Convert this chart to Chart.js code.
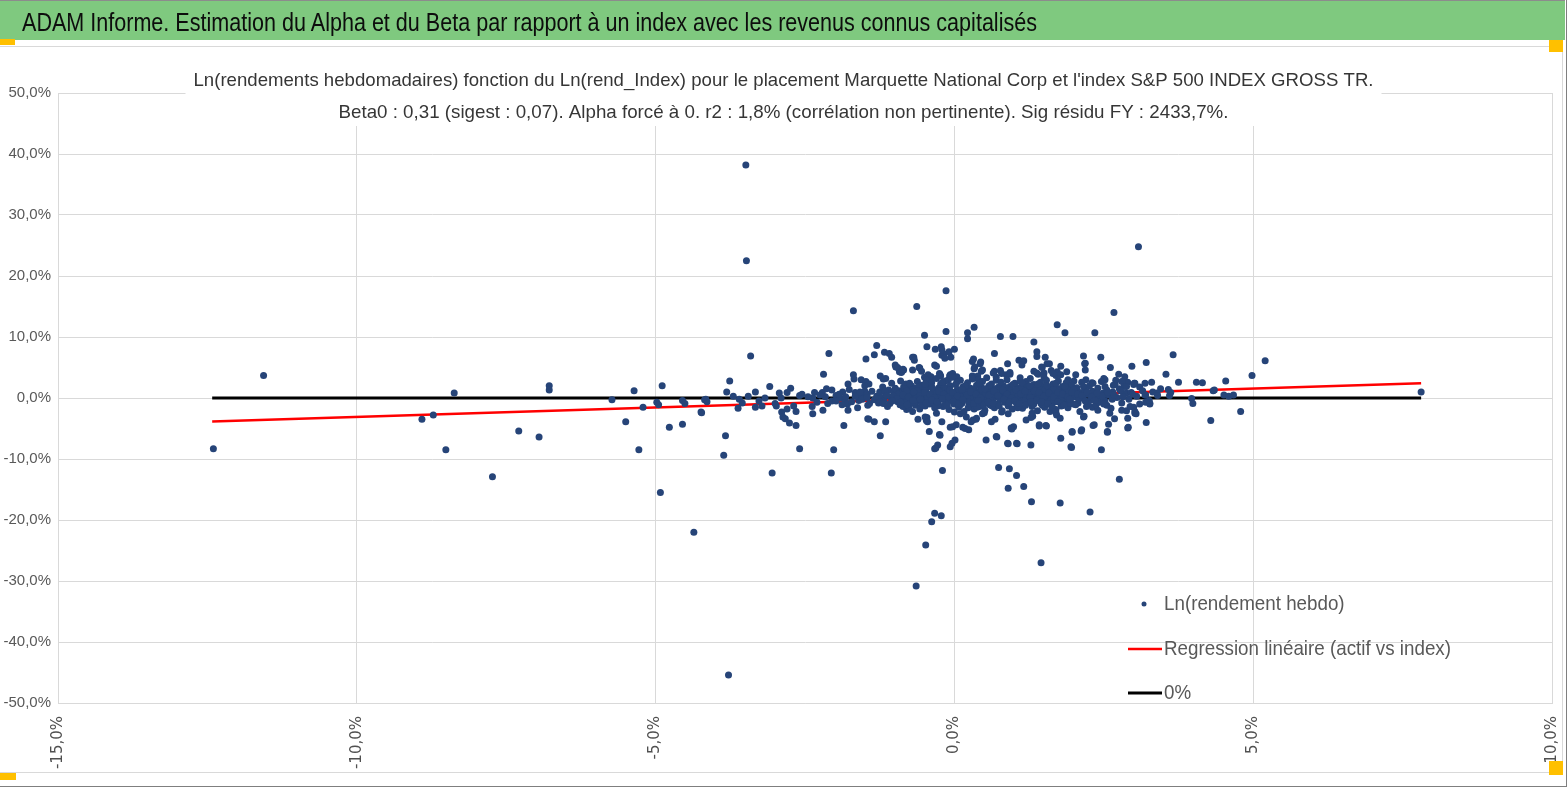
<!DOCTYPE html>
<html lang="fr">
<head>
<meta charset="utf-8">
<title>ADAM Informe</title>
<script src="https://cdn.jsdelivr.net/npm/chart.js@4.4.1/dist/chart.umd.min.js"></script>
<style>
html, body { margin: 0; padding: 0; background: #fff; }
#page { position: relative; width: 1567px; height: 787px; overflow: hidden; }
#bar { position: absolute; left: 0; top: 0; width: 1565px; height: 39px; background: #7fc97f; border-top: 1px solid #8c8c8c; }
#bar span { position: absolute; left: 22px; top: 2px; font: 26px "Liberation Sans Narrow", "Liberation Sans", sans-serif; line-height: 39px; color: #0d0d0d; white-space: nowrap; transform-origin: 0 50%; }
#frame { position: absolute; left: 0; top: 46px; width: 1562px; height: 725px; border: 1px solid #d9d9d9; border-left: none; }
#edge { position: absolute; left: 0; top: 0; width: 1566px; height: 786px; border-right: 1px solid #7f7f7f; border-bottom: 1px solid #7f7f7f; pointer-events: none; }
.h { position: absolute; background: #ffc000; }
canvas { position: absolute; left: 0; top: 0; }
</style>
</head>
<body>
<div id="page">
  <div id="frame"></div>
  <canvas id="c" width="1567" height="787"></canvas>
  <div id="bar"><span id="barTitle">ADAM Informe. Estimation du Alpha et du Beta par rapport à un index avec les revenus connus capitalisés</span></div>
  <div class="h" style="left:0;top:39px;width:15px;height:6px"></div>
  <div class="h" style="left:1549px;top:40px;width:14px;height:12px"></div>
  <div class="h" style="left:1549px;top:761px;width:14px;height:14px"></div>
  <div class="h" style="left:0;top:773px;width:16px;height:7px"></div>
  <div id="edge"></div>
</div>
<script>
// [ln(rend index) %, ln(rend hebdo) %]
const tailPoints = [
  [-12.40,-8.3],[-11.56,3.7],[-8.91,-3.5],[-8.72,-2.8],[-8.37,0.8],[-8.51,-8.5],[-7.73,-12.9],[-7.29,-5.4],
  [-6.95,-6.4],[-6.78,2.0],[-6.78,1.3],[-5.73,-0.3],[-5.50,-3.9],[-5.36,1.2],[-5.28,-8.5],[-5.21,-1.5],
  [-4.98,-0.7],[-4.95,-1.1],[-4.89,2.0],[-4.92,-15.5],[-4.77,-4.8],[-4.55,-0.4],[-4.51,-0.9],[-4.55,-4.3],
  [-4.23,-2.4],[-4.18,-0.3],[-4.14,-0.6],[-4.36,-22.0],[-3.49,38.2],[-3.48,22.5],[-3.78,-45.4],[-3.41,6.9],
  [-3.76,2.8],[-3.81,1.0],[-4.16,-0.2],[-4.24,-2.3],[-3.83,-6.2],[-3.86,-9.4],[-3.62,-1.7],[-3.05,-12.3],
  [-2.06,-12.3],[-2.59,-8.3],[-2.02,-8.5],[-1.69,14.3],[-0.64,-30.8],[-0.14,17.6],[-0.63,15.0],[-0.33,-18.9],
  [-0.22,-19.3],[-0.38,-20.3],[-0.48,-24.1],[1.45,-27.0],[1.29,-17.0],[1.77,-17.2],[2.27,-18.7],[2.76,-13.3],
  [3.08,24.8],[2.67,14.0],[0.90,-14.8],[1.16,-14.5],[1.04,-12.7],[0.74,-11.4],[0.92,-11.6],[-0.20,-11.9],
  [0.33,11.6],[0.22,10.7],[-0.14,10.9],[-0.50,10.3],[1.72,12.0],[1.85,10.7],[2.35,10.7],[0.77,10.1],
  [0.98,10.1],[3.66,7.1],[5.20,6.1],[4.98,3.7],[4.54,2.8],[4.05,2.6],[4.15,2.5],[3.75,2.6],
  [3.54,3.9],[4.51,0.5],[4.59,0.3],[3.97,-0.1],[3.99,-0.9],[4.33,1.2],[4.79,-2.2],[4.29,-3.7],
  [4.67,0.5],[7.81,1.0]
];

const spreadPoints = [
  [0.22,9.7],[1.33,9.2],[-0.46,8.4],[-0.32,8.0],[-0.22,8.4],[-0.21,7.0],[-0.17,7.2],[0.00,8.0],
  [-0.06,6.7],[-0.68,6.7],[0.67,7.3],[1.38,7.6],[1.38,6.8],[1.08,6.2],[1.16,6.1],[0.89,5.6],
  [1.52,6.7],[1.55,5.6],[1.47,5.0],[1.78,5.2],[2.16,6.9],[2.18,5.6],[0.30,6.0],[0.43,5.6],
  [0.33,4.8],[0.45,4.4],[-0.58,4.9],[-0.92,4.3],[-0.98,5.1],[-0.33,5.4],[-0.24,3.8],[-0.08,3.6],
  [0.67,4.4],[0.77,4.5],[0.87,3.8],[0.93,4.2],[1.33,4.4],[1.40,3.9],[1.50,4.1],[1.62,4.5],
  [1.70,3.7],[1.72,4.3],[-2.10,7.3],[-1.30,8.6],[-1.34,7.1],[-1.48,6.4],[-1.17,7.5],[-1.09,7.3],
  [-1.05,6.7],[-0.99,5.4],[-0.95,5.0],[-0.89,4.2],[-0.85,4.6],[-0.70,6.7],[-0.59,5.0],[-0.70,4.6],
  [-2.19,3.9],[-1.69,3.8],[-1.68,3.1],[-1.56,3.0],[-1.48,2.7],[-1.43,2.3],[-1.78,2.3],[-1.24,3.6],
  [-1.15,3.2],[-3.33,1.0],[-3.27,-0.5],[-3.33,-1.5],[-3.17,0.0],[-3.09,1.9],[-3.22,-1.3],[-2.93,0.8],
  [-2.90,0.0],[-2.80,0.9],[-2.74,1.6],[-2.98,-1.3],[-2.89,-2.3],[-2.87,-3.1],[-2.83,-3.4],[-2.76,-4.1],
  [-2.65,-4.5],[-2.69,-1.3],[-2.65,-2.2],[-2.59,0.4],[-2.55,0.6],[-2.37,0.0],[-2.34,0.9],[-2.38,-1.4],
  [-2.37,-2.6],[-2.21,0.9],[-2.16,0.2],[-2.14,1.5],[-2.20,-2.0],[-2.12,-0.9],[-2.05,-0.5],[-1.98,0.4],
  [-1.91,0.0],[-1.87,1.0],[-1.83,-0.3],[-1.79,-1.0],[-1.78,-2.0],[-1.85,-4.5],[-1.66,0.9],[-1.60,-0.4],
  [-1.56,0.5],[-1.50,1.1],[-1.46,0.6],[-1.45,-1.2],[-1.45,-3.4],[-1.34,-3.9],[-1.15,-3.9],[-1.24,-6.2],
  [-0.42,-5.5],[-0.33,-8.3],[-0.28,-7.7],[-0.46,-3.2],[-0.47,-3.7],[-0.61,-3.5],[-0.49,-3.1],[-0.25,-6.0],
  [-0.21,-3.9],[-0.07,-8.0],[-0.04,-7.4],[-0.07,-4.8],[0.03,-4.4],[0.14,-4.8],[0.24,-5.2],[0.20,-3.1],
  [0.28,-3.9],[0.36,-3.5],[0.47,-2.6],[0.53,-6.9],[0.70,-6.3],[0.89,-7.4],[1.04,-7.4],[1.28,-7.7],
  [0.95,-4.9],[0.99,-4.7],[1.20,-3.6],[1.31,-3.0],[1.42,-4.4],[1.53,-4.5],[1.78,-6.6],[1.95,-8.0],
  [1.97,-5.6],[2.12,-5.4],[2.16,-3.1],[2.31,-1.5],[3.21,5.8],[2.97,5.2],[2.75,3.9],[2.61,5.0],
  [2.45,6.7],[2.19,5.7],[3.60,0.4],[3.58,1.4],[3.62,0.9],[3.21,-4.0],[3.27,-1.0],[3.20,-0.7],
  [3.04,-2.6],[2.90,-4.9],[2.90,-3.3],[2.56,-5.6],[2.58,-4.3],[2.46,-8.5],[2.68,-3.4],[2.32,-4.5],
  [1.96,-8.1],[2.30,2.5],[2.50,3.2],[2.70,2.9],[2.85,3.5],[3.00,2.2],[3.10,1.8],[2.20,3.0],
  [2.40,-2.0],[2.60,-2.5],[2.80,-2.0],[3.00,-1.5],[2.55,-1.2],[3.30,2.6],[3.45,1.5],[2.90,2.6],
  [-1.98,-0.5],[-1.93,0.6],[-1.88,-1.1],[-1.82,0.2],[-1.76,1.4],[-1.72,-0.6],[-1.66,0.3],[-1.62,-1.6],
  [-1.58,1.0],[-1.54,-0.2],[-1.50,2.0],[-1.46,0.1],[-1.42,-0.9],[-1.38,1.1],[-1.34,-0.3],[-2.45,0.2],
  [-2.30,-0.7],[-2.25,0.5],[-2.05,1.3],[-3.00,-0.9],[-3.45,0.3],[-3.60,-0.2],[-2.80,-1.8],[-3.70,0.3],
  [-3.55,-0.8]
];

const ringPoints = [
  [-1.19,3.1],[-0.88,4.3],[-0.86,4.7],[-0.67,6.2],[-0.55,4.4],[-0.44,3.8],[-0.39,3.5],[-0.21,7.9],
  [-0.16,6.5],[-0.30,5.2],[-0.25,4.0],[-0.23,3.6],[-0.09,7.6],[-0.07,3.8],[-0.03,4.0],[0.04,3.5],
  [0.32,6.4],[0.34,5.1],[0.44,5.9],[0.47,4.6],[0.32,3.5],[0.39,3.6],[0.65,4.1],[0.79,4.0],
  [0.93,3.9],[1.13,5.4],[1.46,5.1],[1.38,4.1],[1.59,5.6],[1.65,4.0],[1.78,3.8],[1.88,4.3],
  [2.03,3.8],[2.19,4.6],[2.52,3.0],[2.66,2.1],[2.80,2.7],[2.84,1.9],[2.88,0.8],[3.02,2.4],
  [3.19,2.4],[3.27,-0.9],[3.02,-2.2],[2.88,-2.1],[2.94,-1.4],[3.19,0.5],[3.39,0.8],[4.35,1.3],
  [-1.43,-3.5],[-0.45,-3.9],[-0.24,-6.1],[-0.31,-8.2],[0.01,-6.9],[-0.03,-4.7],[0.18,-5.0],[0.31,-3.6],
  [0.37,-3.3],[0.62,-3.9],[0.68,-3.5],[0.71,-6.4],[0.90,-7.5],[0.96,-5.1],[1.05,-7.5],[1.28,-3.2],
  [1.42,-4.6],[1.54,-4.6],[1.71,-2.8],[1.77,-3.3],[1.97,-5.5],[2.13,-5.2],[2.17,-3.0],[2.34,-4.4],
  [2.56,-5.5],[2.91,-4.8],[3.02,-2.5],
  [-0.90,2.8],[-0.70,-2.2],[-0.50,3.4],[-0.30,-2.5],[-0.10,3.0],[0.10,-2.6],[0.30,3.6],[0.50,-2.4],
  [0.70,3.4],[0.90,-2.6],[1.10,3.3],[1.30,-2.5],[1.50,3.4],[1.70,-2.4],[1.90,3.0],[2.10,-2.2],
  [-0.80,-1.9],[-0.40,2.9],[0.00,-2.3],[0.40,3.0],[0.80,-2.1],[1.20,2.7],[1.60,-2.2],[2.00,2.8]
];

const corePoints = [
  [-0.98,0.4],[-0.95,-0.6],[-0.93,1.2],[-0.91,-1.1],[-0.89,0.9],[-0.87,-0.2],[-0.85,1.8],[-0.84,0.1],[-0.82,-0.9],[-0.81,2.3],[-0.80,0.6],
  [-0.79,-0.4],[-0.77,1.4],[-0.76,-1.5],[-0.74,0.3],[-0.72,2.0],[-0.71,-0.8],[-0.69,0.9],[-0.68,-0.1],[-0.66,1.6],[-0.65,-1.2],[-0.63,0.5],[-0.62,2.7],[-0.61,-0.5],
  [-0.59,1.1],[-0.58,-1.8],[-0.56,0.2],[-0.55,2.1],[-0.53,-0.7],[-0.52,1.5],[-0.50,0.0],[-0.49,-1.3],[-0.47,3.0],[-0.46,0.8],[-0.44,-0.3],[-0.43,1.9],[-0.41,-1.0],
  [-0.39,0.6],[-0.38,2.5],[-0.36,-0.6],[-0.35,1.3],[-0.33,-1.6],[-0.32,0.2],[-0.30,3.2],[-0.29,1.0],[-0.27,-0.9],[-0.26,1.7],[-0.24,-0.2],[-0.23,2.3],[-0.21,0.4],
  [-0.19,-1.4],[-0.18,1.2],[-0.16,0.0],[-0.15,2.8],[-0.13,-0.7],[-0.12,1.5],[-0.10,0.7],[-0.09,-1.9],[-0.07,2.0],[-0.06,-0.3],[-0.04,1.0],[-0.03,3.4],[-0.01,-1.0],
  [0.01,0.5],[0.02,2.2],[0.04,-0.5],[0.05,1.4],[0.07,-1.5],[0.08,0.1],[0.10,2.9],[0.11,0.9],[0.13,-0.8],[0.14,1.8],[0.16,-2.2],[0.17,0.3],[0.19,1.1],
  [0.21,-0.2],[0.22,2.5],[0.24,0.7],[0.25,-1.2],[0.27,1.6],[0.28,-0.4],[0.30,3.1],[0.31,0.2],[0.33,-1.8],[0.34,1.3],[0.36,0.0],[0.37,2.1],[0.39,-0.9],
  [0.41,0.8],[0.42,-1.4],[0.44,1.9],[0.45,0.3],[0.47,2.7],[0.48,-0.6],[0.50,1.2],[0.51,-2.0],[0.53,0.5],[0.54,3.3],[0.56,-0.2],[0.57,1.6],[0.59,-1.1],
  [0.61,0.9],[0.62,2.3],[0.64,-0.4],[0.65,1.4],[0.67,-1.6],[0.68,0.2],[0.70,2.9],[0.71,0.6],[0.73,-0.9],[0.74,1.8],[0.76,-0.1],[0.77,1.1],[0.79,-2.3],
  [0.81,0.4],[0.82,2.0],[0.84,-0.7],[0.85,1.5],[0.87,0.0],[0.88,3.0],[0.90,-1.3],[0.91,0.8],[0.93,1.9],[0.94,-0.4],[0.96,1.2],[0.97,-1.8],[0.99,0.3],
  [1.01,2.4],[1.02,-0.6],[1.04,1.0],[1.05,-1.2],[1.07,1.7],[1.08,0.1],[1.10,2.8],[1.11,-0.3],[1.13,0.9],[1.14,-1.7],[1.16,1.4],[1.17,0.5],[1.19,2.1],
  [1.21,-0.8],[1.22,0.7],[1.24,1.8],[1.25,-0.2],[1.27,3.2],[1.28,1.1],[1.30,-1.4],[1.31,0.3],[1.33,2.2],[1.34,-0.5],[1.36,1.3],[1.37,0.0],[1.39,-2.1],
  [1.41,1.6],[1.42,0.4],[1.44,2.6],[1.45,-0.9],[1.47,1.0],[1.48,-0.1],[1.50,1.9],[1.51,-1.5],[1.53,0.6],[1.54,2.9],[1.56,-0.4],[1.57,1.2],[1.59,0.2],
  [1.61,-1.1],[1.62,1.7],[1.64,0.5],[1.65,2.3],[1.67,-0.6],[1.68,1.0],[1.70,-1.9],[1.71,0.1],[1.73,1.5],[1.74,2.8],[1.76,-0.3],[1.77,0.8],[1.79,-1.3],
  [1.81,1.9],[1.82,0.3],[1.84,-0.7],[1.85,1.3],[1.87,2.5],[1.88,0.0],[1.90,-1.6],[1.91,0.9],[1.93,1.6],[1.94,-0.4],[1.96,2.1],[1.97,0.6],[1.99,-1.0],
  [-0.97,1.0],[-0.88,0.2],[-0.78,0.8],[-0.70,1.3],[-0.64,0.0],[-0.57,0.7],[-0.48,1.6],[-0.40,0.1],[-0.34,0.9],[-0.25,0.5],[-0.17,1.8],
  [-0.11,-0.4],[-0.05,0.6],[0.03,1.0],[0.09,-0.2],[0.15,0.6],[0.23,1.2],[0.29,0.5],[0.35,-0.5],[0.43,1.0],[0.49,0.1],[0.55,0.9],
  [0.63,0.3],[0.69,1.5],[0.75,0.5],[0.83,1.1],[0.89,0.3],[0.95,0.7],[1.03,0.2],[1.09,1.3],[1.15,0.6],[1.23,1.0],[1.29,0.4],
  [1.35,0.8],[1.43,1.4],[1.49,0.5],[1.55,1.0],[1.63,1.2],[1.69,0.4],[1.75,1.1],[1.83,0.8],[1.89,1.4],[1.95,0.3],
  [-0.92,-0.3],[-0.83,1.5],[-0.73,-0.3],[-0.60,1.8],[-0.51,-0.5],[-0.42,0.4],[-0.31,-0.4],[-0.22,1.1],[-0.14,0.3],[-0.02,0.2],
  [0.06,0.8],[0.12,0.2],[0.20,0.8],[0.26,0.1],[0.32,0.9],[0.40,0.3],[0.46,1.4],[0.52,0.7],[0.60,0.1],[0.66,0.6],
  [0.72,1.2],[0.80,0.0],[0.86,0.7],[0.92,1.4],[1.00,0.9],[1.06,0.4],[1.12,1.5],[1.20,0.2],[1.26,0.8],[1.32,1.6],
  [1.40,0.7],[1.46,0.2],[1.52,1.4],[1.60,0.7],[1.66,1.4],[1.72,0.5],[1.80,0.1],[1.86,0.5],[1.92,1.1],[1.98,0.4],
  [-1.30,0.3],[-1.27,-0.8],[-1.25,1.0],[-1.22,0.0],[-1.20,1.8],[-1.18,-0.4],[-1.15,0.6],[-1.12,-1.4],[-1.10,1.3],[-1.07,0.2],[-1.05,2.4],[-1.03,-0.2],[-1.01,0.9],
  [2.02,0.2],[2.05,1.7],[2.07,-0.8],[2.10,0.9],[2.13,2.6],[2.15,0.0],[2.18,1.3],[2.21,-1.4],[2.23,0.6],[2.26,2.0],[2.28,-0.3],[2.31,1.1],[2.34,0.4],
  [2.37,-1.1],[2.40,1.6],[2.43,0.2],[2.46,2.7],[2.49,0.8],[2.52,-0.5],[2.55,1.3],[2.58,0.5],[2.62,-1.7],[2.65,1.0],[2.69,2.2],[2.72,0.1],[2.76,1.5],
  [2.80,-0.8],[2.84,0.7],[2.88,1.9],[2.92,-0.2],[2.96,0.9],[3.01,2.4],[3.05,0.3],[3.10,-1.0],[3.15,1.2],[3.20,0.5],[3.26,-0.4],[3.32,1.0],[3.40,0.4]
];

const densePoints = [
  [-1.24,-0.6],[-1.16,1.1],[-1.08,-0.9],[-0.99,1.6],[-0.94,0.6],[-0.86,-1.4],[-0.80,1.1],[-0.75,2.4],[-0.67,-0.7],[-0.62,1.2],
  [-0.54,-1.0],[-0.49,2.3],[-0.45,0.2],[-0.37,1.7],[-0.28,-1.3],[-0.20,2.6],[-0.15,-0.9],[-0.08,1.3],[0.00,-0.3],[0.04,2.6],
  [0.10,-1.1],[0.18,2.0],[0.24,-0.7],[0.30,1.4],[0.38,-1.5],[0.42,2.4],[0.50,-0.8],[0.58,2.0],[0.63,-1.3],[0.70,0.9],
  [0.78,2.6],[0.84,1.7],[0.91,-0.9],[0.98,2.2],[1.06,-1.6],[1.13,2.5],[1.18,-0.5],[1.26,2.0],[1.33,-1.0],[1.40,2.3],
  [1.47,-1.2],[1.55,2.0],[1.62,-0.3],[1.70,2.4],[1.78,-0.8],[1.85,1.9],[1.92,-0.9],[2.00,1.3],[2.08,-0.2],[2.16,1.9],
  [2.24,-0.9],[2.32,2.4],[2.42,-0.7],[2.52,1.9],[2.64,-0.2],[2.78,1.2],
  [-1.13,0.4],[-1.02,0.3],[-0.96,-0.1],[-0.86,0.5],[-0.77,0.2],[-0.68,1.0],[-0.58,0.4],[-0.50,0.9],[-0.41,0.6],[-0.33,0.1],
  [-0.26,1.1],[-0.18,0.6],[-0.10,0.2],[-0.03,0.9],[0.05,0.3],[0.13,1.4],[0.21,0.5],[0.27,1.0],[0.36,0.6],[0.44,0.0],
  [0.51,1.5],[0.58,0.5],[0.66,1.1],[0.73,0.4],[0.81,1.3],[0.88,0.6],[0.96,0.0],[1.03,1.3],[1.11,0.7],[1.18,1.1],
  [1.27,0.1],[1.34,1.1],[1.42,0.9],[1.50,0.3],[1.58,0.8],[1.66,0.2],[1.73,0.9],[1.81,0.6],[1.90,0.2],[1.97,0.9],
  [2.06,0.6],[2.14,0.4],[2.22,1.0],[2.30,0.2],[2.39,0.8],[2.48,0.3],[2.57,0.9],[2.67,0.5],[2.82,0.2],[2.98,0.6],
  [-1.19,-0.9],[-1.04,-0.5],[-0.90,-0.7],[-0.79,-1.1],[-0.69,-0.4],[-0.57,-0.2],[-0.47,-0.8],[-0.38,-0.3],[-0.29,-0.6],[-0.20,-0.1],
  [-0.12,-1.2],[-0.02,-0.6],[0.07,-0.9],[0.14,-0.3],[0.23,-1.6],[0.32,-0.9],[0.40,-0.4],[0.49,-1.1],[0.57,-0.7],[0.66,-0.9],
  [0.75,-1.3],[0.83,-0.2],[0.92,-0.6],[1.01,-0.4],[1.09,-0.9],[1.19,-1.2],[1.28,-0.6],[1.38,-0.4],[1.46,-0.6],[1.56,-0.9],
  [1.64,-1.5],[1.73,-0.6],[1.83,-1.2],[1.93,-0.2],[2.03,-1.1],[2.19,-0.5],[2.35,-0.4],[2.50,-1.0]
];

// regression (beta0 = 0,31, alpha forced to 0) and 0% line, over the index range
const lineX = [-12.42, 7.81];
const regressionY = [-3.85, 2.42];
const zeroY = [0, 0];

const titleLines = [
  "Ln(rendements hebdomadaires) fonction du Ln(rend_Index) pour le placement Marquette National Corp et l'index S&P 500 INDEX GROSS TR.",
  "Beta0 : 0,31 (sigest : 0,07). Alpha forcé à 0. r2 : 1,8% (corrélation non pertinente). Sig résidu FY : 2433,7%."
];
const titleWidths = [1180, 890];

const NARROW = '"Liberation Sans Narrow", "Liberation Sans", sans-serif';
const pct = v => Number(v).toFixed(1).replace('.', ',') + '%';
const toXY = pts => pts.map(p => ({ x: p[0], y: p[1] }));

// fit the green banner title to its width
const barTitle = document.getElementById('barTitle');
barTitle.style.transform = 'scaleX(' + (1015 / barTitle.getBoundingClientRect().width) + ')';

const boxedTitle = {
  id: 'boxedTitle',
  afterDraw(chart) {
    const { ctx } = chart;
    const cx = chart.width / 2;
    ctx.save();
    ctx.fillStyle = '#fff';
    ctx.fillRect(cx - 598, 64, 1196, 62);
    ctx.font = '19px ' + NARROW;
    ctx.fillStyle = '#363636';
    ctx.textAlign = 'center';
    ctx.textBaseline = 'middle';
    titleLines.forEach((t, i) => {
      const w = ctx.measureText(t).width;
      ctx.save();
      ctx.translate(cx, 81 + i * 32);
      ctx.scale(titleWidths[i] / w, 1);
      ctx.fillText(t, 0, 0);
      ctx.restore();
    });
    ctx.restore();
  }
};

const insideLegend = {
  id: 'insideLegend',
  afterDraw(chart) {
    const { ctx, chartArea } = chart;
    const x0 = chartArea.right - 424;
    const rows = [chartArea.bottom - 99, chartArea.bottom - 54, chartArea.bottom - 10];
    ctx.save();
    ctx.font = '21px ' + NARROW;
    ctx.textBaseline = 'middle';
    const k = 287 / ctx.measureText(chart.data.datasets[1].label).width;
    chart.data.datasets.forEach((ds, i) => {
      const y = rows[i];
      if (ds.type === 'scatter') {
        ctx.fillStyle = ds.backgroundColor;
        ctx.beginPath();
        ctx.arc(x0 + 16, y, 2.5, 0, Math.PI * 2);
        ctx.fill();
      } else {
        ctx.strokeStyle = ds.borderColor;
        ctx.lineWidth = ds.borderWidth;
        ctx.beginPath();
        ctx.moveTo(x0, y);
        ctx.lineTo(x0 + 34, y);
        ctx.stroke();
      }
      ctx.save();
      ctx.translate(x0 + 36, y);
      ctx.scale(k, 1);
      ctx.fillStyle = '#595959';
      ctx.fillText(ds.label, 0, 0);
      ctx.restore();
    });
    ctx.restore();
  }
};

new Chart(document.getElementById('c'), {
  type: 'scatter',
  data: {
    datasets: [
      {
        type: 'scatter',
        label: 'Ln(rendement hebdo)',
        data: toXY([...tailPoints, ...spreadPoints, ...ringPoints, ...corePoints, ...densePoints]),
        backgroundColor: '#264478',
        borderColor: '#264478',
        borderWidth: 0,
        pointRadius: 3.5,
        order: 0
      },
      {
        type: 'line',
        label: 'Regression linéaire (actif vs index)',
        data: lineX.map((x, i) => ({ x: x, y: regressionY[i] })),
        borderColor: '#ff0000',
        borderWidth: 2.5,
        pointRadius: 0,
        order: 1
      },
      {
        type: 'line',
        label: '0%',
        data: lineX.map((x, i) => ({ x: x, y: zeroY[i] })),
        borderColor: '#000000',
        borderWidth: 3,
        pointRadius: 0,
        order: 2
      }
    ]
  },
  options: {
    responsive: false,
    animation: false,
    events: [],
    layout: { padding: { top: 93, right: 15, bottom: 0, left: 0 } },
    plugins: { legend: { display: false }, title: { display: false }, tooltip: { enabled: false } },
    scales: {
      x: {
        type: 'linear',
        min: -15,
        max: 10,
        afterFit(scale) {
          scale.height = 84;
          scale.paddingLeft = 0;
          scale.paddingRight = 0;
        },
        ticks: {
          stepSize: 5,
          minRotation: 90,
          maxRotation: 90,
          padding: 13,
          color: '#505050',
          font: { family: 'DejaVu Sans', size: 15 },
          callback: pct
        },
        grid: { color: '#d9d9d9', drawTicks: false },
        border: { color: '#d9d9d9' }
      },
      y: {
        min: -50,
        max: 50,
        afterFit(scale) { scale.width = 58; },
        ticks: {
          stepSize: 10,
          padding: 7,
          color: '#595959',
          font: { family: NARROW, size: 15 },
          callback: pct
        },
        grid: { color: '#d9d9d9', drawTicks: false },
        border: { color: '#d9d9d9' }
      }
    }
  },
  plugins: [boxedTitle, insideLegend]
});
</script>
</body>
</html>
